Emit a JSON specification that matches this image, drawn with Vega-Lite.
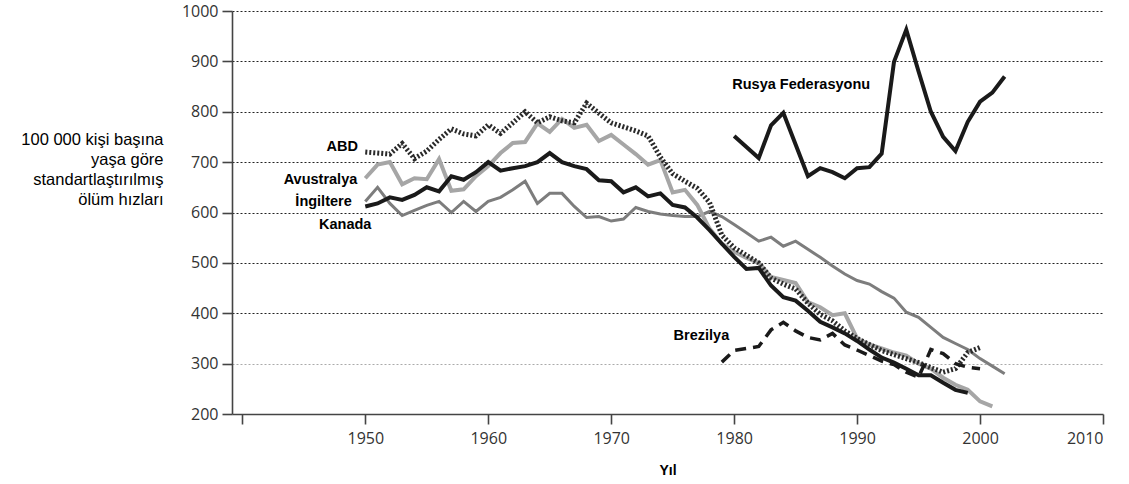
{
  "$schema": "https://vega.github.io/schema/vega-lite/v6.json",
  "width": 871,
  "height": 403,
  "autosize": {"type": "none"},
  "padding": {"left": 232, "top": 11, "right": 26, "bottom": 70},
  "background": "white",
  "config": {"view": {"stroke": null}, "font": "Liberation Sans"},
  "datasets": {
    "series": [
      {"country": "İngiltere", "year": 1950, "value": 622}, {"country": "İngiltere", "year": 1951, "value": 650}, {"country": "İngiltere", "year": 1952, "value": 618}, {"country": "İngiltere", "year": 1953, "value": 594}, {"country": "İngiltere", "year": 1954, "value": 604}, {"country": "İngiltere", "year": 1955, "value": 614}, {"country": "İngiltere", "year": 1956, "value": 622}, {"country": "İngiltere", "year": 1957, "value": 600}, {"country": "İngiltere", "year": 1958, "value": 622}, {"country": "İngiltere", "year": 1959, "value": 602}, {"country": "İngiltere", "year": 1960, "value": 622}, {"country": "İngiltere", "year": 1961, "value": 630}, {"country": "İngiltere", "year": 1962, "value": 645}, {"country": "İngiltere", "year": 1963, "value": 662}, {"country": "İngiltere", "year": 1964, "value": 618}, {"country": "İngiltere", "year": 1965, "value": 638}, {"country": "İngiltere", "year": 1966, "value": 638}, {"country": "İngiltere", "year": 1967, "value": 612}, {"country": "İngiltere", "year": 1968, "value": 590}, {"country": "İngiltere", "year": 1969, "value": 592}, {"country": "İngiltere", "year": 1970, "value": 583}, {"country": "İngiltere", "year": 1971, "value": 587}, {"country": "İngiltere", "year": 1972, "value": 610}, {"country": "İngiltere", "year": 1973, "value": 602}, {"country": "İngiltere", "year": 1974, "value": 597}, {"country": "İngiltere", "year": 1975, "value": 594}, {"country": "İngiltere", "year": 1976, "value": 592}, {"country": "İngiltere", "year": 1977, "value": 592}, {"country": "İngiltere", "year": 1978, "value": 602}, {"country": "İngiltere", "year": 1979, "value": 592}, {"country": "İngiltere", "year": 1980, "value": 576}, {"country": "İngiltere", "year": 1981, "value": 560}, {"country": "İngiltere", "year": 1982, "value": 543}, {"country": "İngiltere", "year": 1983, "value": 551}, {"country": "İngiltere", "year": 1984, "value": 533}, {"country": "İngiltere", "year": 1985, "value": 543}, {"country": "İngiltere", "year": 1986, "value": 527}, {"country": "İngiltere", "year": 1987, "value": 511}, {"country": "İngiltere", "year": 1988, "value": 494}, {"country": "İngiltere", "year": 1989, "value": 478}, {"country": "İngiltere", "year": 1990, "value": 465}, {"country": "İngiltere", "year": 1991, "value": 458}, {"country": "İngiltere", "year": 1992, "value": 443}, {"country": "İngiltere", "year": 1993, "value": 430}, {"country": "İngiltere", "year": 1994, "value": 402}, {"country": "İngiltere", "year": 1995, "value": 392}, {"country": "İngiltere", "year": 1996, "value": 372}, {"country": "İngiltere", "year": 1997, "value": 352}, {"country": "İngiltere", "year": 1998, "value": 340}, {"country": "İngiltere", "year": 1999, "value": 328}, {"country": "İngiltere", "year": 2000, "value": 310}, {"country": "İngiltere", "year": 2001, "value": 295}, {"country": "İngiltere", "year": 2002, "value": 280},
      {"country": "Avustralya", "year": 1950, "value": 668}, {"country": "Avustralya", "year": 1951, "value": 695}, {"country": "Avustralya", "year": 1952, "value": 700}, {"country": "Avustralya", "year": 1953, "value": 656}, {"country": "Avustralya", "year": 1954, "value": 668}, {"country": "Avustralya", "year": 1955, "value": 666}, {"country": "Avustralya", "year": 1956, "value": 706}, {"country": "Avustralya", "year": 1957, "value": 643}, {"country": "Avustralya", "year": 1958, "value": 646}, {"country": "Avustralya", "year": 1959, "value": 672}, {"country": "Avustralya", "year": 1960, "value": 692}, {"country": "Avustralya", "year": 1961, "value": 718}, {"country": "Avustralya", "year": 1962, "value": 738}, {"country": "Avustralya", "year": 1963, "value": 740}, {"country": "Avustralya", "year": 1964, "value": 777}, {"country": "Avustralya", "year": 1965, "value": 760}, {"country": "Avustralya", "year": 1966, "value": 786}, {"country": "Avustralya", "year": 1967, "value": 768}, {"country": "Avustralya", "year": 1968, "value": 774}, {"country": "Avustralya", "year": 1969, "value": 742}, {"country": "Avustralya", "year": 1970, "value": 754}, {"country": "Avustralya", "year": 1971, "value": 735}, {"country": "Avustralya", "year": 1972, "value": 716}, {"country": "Avustralya", "year": 1973, "value": 695}, {"country": "Avustralya", "year": 1974, "value": 704}, {"country": "Avustralya", "year": 1975, "value": 640}, {"country": "Avustralya", "year": 1976, "value": 645}, {"country": "Avustralya", "year": 1977, "value": 615}, {"country": "Avustralya", "year": 1978, "value": 568}, {"country": "Avustralya", "year": 1979, "value": 538}, {"country": "Avustralya", "year": 1980, "value": 522}, {"country": "Avustralya", "year": 1981, "value": 510}, {"country": "Avustralya", "year": 1982, "value": 500}, {"country": "Avustralya", "year": 1983, "value": 472}, {"country": "Avustralya", "year": 1984, "value": 466}, {"country": "Avustralya", "year": 1985, "value": 460}, {"country": "Avustralya", "year": 1986, "value": 422}, {"country": "Avustralya", "year": 1987, "value": 412}, {"country": "Avustralya", "year": 1988, "value": 396}, {"country": "Avustralya", "year": 1989, "value": 400}, {"country": "Avustralya", "year": 1990, "value": 350}, {"country": "Avustralya", "year": 1991, "value": 338}, {"country": "Avustralya", "year": 1992, "value": 330}, {"country": "Avustralya", "year": 1993, "value": 322}, {"country": "Avustralya", "year": 1994, "value": 316}, {"country": "Avustralya", "year": 1995, "value": 300}, {"country": "Avustralya", "year": 1996, "value": 290}, {"country": "Avustralya", "year": 1997, "value": 272}, {"country": "Avustralya", "year": 1998, "value": 258}, {"country": "Avustralya", "year": 1999, "value": 248}, {"country": "Avustralya", "year": 2000, "value": 225}, {"country": "Avustralya", "year": 2001, "value": 215},
      {"country": "ABD", "year": 1950, "value": 720}, {"country": "ABD", "year": 1951, "value": 718}, {"country": "ABD", "year": 1952, "value": 716}, {"country": "ABD", "year": 1953, "value": 737}, {"country": "ABD", "year": 1954, "value": 707}, {"country": "ABD", "year": 1955, "value": 722}, {"country": "ABD", "year": 1956, "value": 745}, {"country": "ABD", "year": 1957, "value": 766}, {"country": "ABD", "year": 1958, "value": 756}, {"country": "ABD", "year": 1959, "value": 752}, {"country": "ABD", "year": 1960, "value": 774}, {"country": "ABD", "year": 1961, "value": 757}, {"country": "ABD", "year": 1962, "value": 778}, {"country": "ABD", "year": 1963, "value": 800}, {"country": "ABD", "year": 1964, "value": 778}, {"country": "ABD", "year": 1965, "value": 790}, {"country": "ABD", "year": 1966, "value": 782}, {"country": "ABD", "year": 1967, "value": 778}, {"country": "ABD", "year": 1968, "value": 817}, {"country": "ABD", "year": 1969, "value": 797}, {"country": "ABD", "year": 1970, "value": 778}, {"country": "ABD", "year": 1971, "value": 770}, {"country": "ABD", "year": 1972, "value": 762}, {"country": "ABD", "year": 1973, "value": 752}, {"country": "ABD", "year": 1974, "value": 710}, {"country": "ABD", "year": 1975, "value": 677}, {"country": "ABD", "year": 1976, "value": 662}, {"country": "ABD", "year": 1977, "value": 648}, {"country": "ABD", "year": 1978, "value": 620}, {"country": "ABD", "year": 1979, "value": 555}, {"country": "ABD", "year": 1980, "value": 530}, {"country": "ABD", "year": 1981, "value": 515}, {"country": "ABD", "year": 1982, "value": 500}, {"country": "ABD", "year": 1983, "value": 470}, {"country": "ABD", "year": 1984, "value": 458}, {"country": "ABD", "year": 1985, "value": 448}, {"country": "ABD", "year": 1986, "value": 420}, {"country": "ABD", "year": 1987, "value": 398}, {"country": "ABD", "year": 1988, "value": 385}, {"country": "ABD", "year": 1989, "value": 365}, {"country": "ABD", "year": 1990, "value": 350}, {"country": "ABD", "year": 1991, "value": 338}, {"country": "ABD", "year": 1992, "value": 326}, {"country": "ABD", "year": 1993, "value": 318}, {"country": "ABD", "year": 1994, "value": 310}, {"country": "ABD", "year": 1995, "value": 302}, {"country": "ABD", "year": 1996, "value": 292}, {"country": "ABD", "year": 1997, "value": 283}, {"country": "ABD", "year": 1998, "value": 290}, {"country": "ABD", "year": 1999, "value": 322}, {"country": "ABD", "year": 2000, "value": 332},
      {"country": "Brezilya", "year": 1979, "value": 303}, {"country": "Brezilya", "year": 1980, "value": 326}, {"country": "Brezilya", "year": 1981, "value": 330}, {"country": "Brezilya", "year": 1982, "value": 334}, {"country": "Brezilya", "year": 1983, "value": 367}, {"country": "Brezilya", "year": 1984, "value": 382}, {"country": "Brezilya", "year": 1985, "value": 365}, {"country": "Brezilya", "year": 1986, "value": 352}, {"country": "Brezilya", "year": 1987, "value": 347}, {"country": "Brezilya", "year": 1988, "value": 360}, {"country": "Brezilya", "year": 1989, "value": 337}, {"country": "Brezilya", "year": 1990, "value": 327}, {"country": "Brezilya", "year": 1991, "value": 316}, {"country": "Brezilya", "year": 1992, "value": 305}, {"country": "Brezilya", "year": 1993, "value": 298}, {"country": "Brezilya", "year": 1994, "value": 283}, {"country": "Brezilya", "year": 1995, "value": 273}, {"country": "Brezilya", "year": 1996, "value": 328}, {"country": "Brezilya", "year": 1997, "value": 320}, {"country": "Brezilya", "year": 1998, "value": 300}, {"country": "Brezilya", "year": 1999, "value": 293}, {"country": "Brezilya", "year": 2000, "value": 290},
      {"country": "Kanada", "year": 1950, "value": 612}, {"country": "Kanada", "year": 1951, "value": 618}, {"country": "Kanada", "year": 1952, "value": 630}, {"country": "Kanada", "year": 1953, "value": 625}, {"country": "Kanada", "year": 1954, "value": 635}, {"country": "Kanada", "year": 1955, "value": 650}, {"country": "Kanada", "year": 1956, "value": 642}, {"country": "Kanada", "year": 1957, "value": 672}, {"country": "Kanada", "year": 1958, "value": 665}, {"country": "Kanada", "year": 1959, "value": 680}, {"country": "Kanada", "year": 1960, "value": 700}, {"country": "Kanada", "year": 1961, "value": 683}, {"country": "Kanada", "year": 1962, "value": 688}, {"country": "Kanada", "year": 1963, "value": 692}, {"country": "Kanada", "year": 1964, "value": 700}, {"country": "Kanada", "year": 1965, "value": 718}, {"country": "Kanada", "year": 1966, "value": 700}, {"country": "Kanada", "year": 1967, "value": 692}, {"country": "Kanada", "year": 1968, "value": 686}, {"country": "Kanada", "year": 1969, "value": 664}, {"country": "Kanada", "year": 1970, "value": 662}, {"country": "Kanada", "year": 1971, "value": 640}, {"country": "Kanada", "year": 1972, "value": 650}, {"country": "Kanada", "year": 1973, "value": 632}, {"country": "Kanada", "year": 1974, "value": 638}, {"country": "Kanada", "year": 1975, "value": 615}, {"country": "Kanada", "year": 1976, "value": 610}, {"country": "Kanada", "year": 1977, "value": 590}, {"country": "Kanada", "year": 1978, "value": 565}, {"country": "Kanada", "year": 1979, "value": 538}, {"country": "Kanada", "year": 1980, "value": 512}, {"country": "Kanada", "year": 1981, "value": 488}, {"country": "Kanada", "year": 1982, "value": 490}, {"country": "Kanada", "year": 1983, "value": 455}, {"country": "Kanada", "year": 1984, "value": 432}, {"country": "Kanada", "year": 1985, "value": 425}, {"country": "Kanada", "year": 1986, "value": 405}, {"country": "Kanada", "year": 1987, "value": 383}, {"country": "Kanada", "year": 1988, "value": 372}, {"country": "Kanada", "year": 1989, "value": 360}, {"country": "Kanada", "year": 1990, "value": 345}, {"country": "Kanada", "year": 1991, "value": 328}, {"country": "Kanada", "year": 1992, "value": 312}, {"country": "Kanada", "year": 1993, "value": 302}, {"country": "Kanada", "year": 1994, "value": 290}, {"country": "Kanada", "year": 1995, "value": 277}, {"country": "Kanada", "year": 1996, "value": 277}, {"country": "Kanada", "year": 1997, "value": 262}, {"country": "Kanada", "year": 1998, "value": 248}, {"country": "Kanada", "year": 1999, "value": 242},
      {"country": "Rusya Federasyonu", "year": 1980, "value": 752}, {"country": "Rusya Federasyonu", "year": 1981, "value": 730}, {"country": "Rusya Federasyonu", "year": 1982, "value": 708}, {"country": "Rusya Federasyonu", "year": 1983, "value": 773}, {"country": "Rusya Federasyonu", "year": 1984, "value": 798}, {"country": "Rusya Federasyonu", "year": 1985, "value": 735}, {"country": "Rusya Federasyonu", "year": 1986, "value": 672}, {"country": "Rusya Federasyonu", "year": 1987, "value": 688}, {"country": "Rusya Federasyonu", "year": 1988, "value": 680}, {"country": "Rusya Federasyonu", "year": 1989, "value": 668}, {"country": "Rusya Federasyonu", "year": 1990, "value": 688}, {"country": "Rusya Federasyonu", "year": 1991, "value": 690}, {"country": "Rusya Federasyonu", "year": 1992, "value": 717}, {"country": "Rusya Federasyonu", "year": 1993, "value": 899}, {"country": "Rusya Federasyonu", "year": 1994, "value": 963}, {"country": "Rusya Federasyonu", "year": 1995, "value": 880}, {"country": "Rusya Federasyonu", "year": 1996, "value": 800}, {"country": "Rusya Federasyonu", "year": 1997, "value": 750}, {"country": "Rusya Federasyonu", "year": 1998, "value": 722}, {"country": "Rusya Federasyonu", "year": 1999, "value": 780}, {"country": "Rusya Federasyonu", "year": 2000, "value": 820}, {"country": "Rusya Federasyonu", "year": 2001, "value": 838}, {"country": "Rusya Federasyonu", "year": 2002, "value": 870}
    ],
    "labels": [
      {"label": "ABD", "year": 1949.4, "value": 730},
      {"label": "Avustralya", "year": 1949.35, "value": 664},
      {"label": "İngiltere", "year": 1948.9, "value": 620},
      {"label": "Kanada", "year": 1950.5, "value": 576},
      {"label": "Brezilya", "year": 1979.6, "value": 355},
      {"label": "Rusya Federasyonu", "year": 1979.85, "value": 853}
    ]
  },
  "encoding": {
    "x": {
      "field": "year", "type": "quantitative",
      "scale": {"domain": [1939.16, 2010], "nice": false, "zero": false},
      "axis": {
        "values": [1940, 1950, 1960, 1970, 1980, 1990, 2000, 2010],
        "format": "d",
        "labelExpr": "datum.value == 1940 ? '' : datum.label",
        "grid": false,
        "domainColor": "#444", "domainWidth": 1.6,
        "tickColor": "#444", "tickWidth": 1.6, "tickSize": 10,
        "labelFont": "Open Sans", "labelFontSize": 16, "labelColor": "#333", "labelPadding": 6,
        "title": "Yıl", "titleFont": "Liberation Sans", "titleFontSize": 14, "titleFontWeight": "bold", "titleColor": "#000",
        "titleBaseline": "top", "titleY": 49
      }
    },
    "y": {
      "field": "value", "type": "quantitative",
      "scale": {"domain": [200, 1000], "nice": false, "zero": false},
      "axis": {
        "values": [200, 300, 400, 500, 600, 700, 800, 900, 1000],
        "format": "d",
        "grid": true,
        "gridDash": [2, 2],
        "gridWidth": 1,
        "gridColor": {"condition": {"test": "datum.value == 300", "value": "#aaa"}, "value": "#222"},
        "gridOpacity": {"condition": {"test": "datum.value == 200", "value": 0}, "value": 1},
        "domainColor": "#444", "domainWidth": 1.6,
        "tickColor": "#444", "tickWidth": 1.6, "tickSize": 10,
        "labelFont": "Open Sans", "labelFontSize": 16, "labelColor": "#333", "labelPadding": 4,
        "title": ["100 000 kişi başına", "yaşa göre", "standartlaştırılmış", "ölüm hızları"],
        "titleFont": "Liberation Sans", "titleFontSize": 16.5, "titleFontWeight": "normal", "titleColor": "#000",
        "titleAngle": 0, "titleAlign": "right", "titleBaseline": "top",
        "titleX": -69, "titleY": 120, "titleLineHeight": 20
      }
    }
  },
  "layer": [
    {"data": {"name": "series"}, "transform": [{"filter": "datum.country === 'İngiltere'"}],
     "mark": {"type": "line", "color": "#7d7d7d", "strokeWidth": 3, "strokeJoin": "miter", "strokeMiterLimit": 4}},
    {"data": {"name": "series"}, "transform": [{"filter": "datum.country === 'Avustralya'"}],
     "mark": {"type": "line", "color": "#a6a6a6", "strokeWidth": 4, "strokeJoin": "miter", "strokeMiterLimit": 4}},
    {"data": {"name": "series"}, "transform": [{"filter": "datum.country === 'ABD'"}],
     "mark": {"type": "line", "color": "#2a2a2a", "strokeWidth": 5, "strokeDash": [2, 2]}},
    {"data": {"name": "series"}, "transform": [{"filter": "datum.country === 'Brezilya'"}],
     "mark": {"type": "line", "color": "#1a1a1a", "strokeWidth": 3.5, "strokeDash": [11, 7]}},
    {"data": {"name": "series"}, "transform": [{"filter": "datum.country === 'Kanada'"}],
     "mark": {"type": "line", "color": "#1a1a1a", "strokeWidth": 4, "strokeJoin": "miter", "strokeMiterLimit": 4}},
    {"data": {"name": "series"}, "transform": [{"filter": "datum.country === 'Rusya Federasyonu'"}],
     "mark": {"type": "line", "color": "#1a1a1a", "strokeWidth": 4, "strokeJoin": "miter", "strokeMiterLimit": 4}},
    {"data": {"name": "labels"}, "transform": [{"filter": "datum.label !== 'Rusya Federasyonu'"}],
     "mark": {"type": "text", "align": "right", "baseline": "middle", "font": "Liberation Sans", "fontSize": 14.5, "fontWeight": "bold", "color": "#000"},
     "encoding": {"text": {"field": "label"}}},
    {"data": {"name": "labels"}, "transform": [{"filter": "datum.label === 'Rusya Federasyonu'"}],
     "mark": {"type": "text", "align": "left", "baseline": "middle", "font": "Liberation Sans", "fontSize": 14.5, "fontWeight": "bold", "color": "#000"},
     "encoding": {"text": {"field": "label"}}}
  ]
}
